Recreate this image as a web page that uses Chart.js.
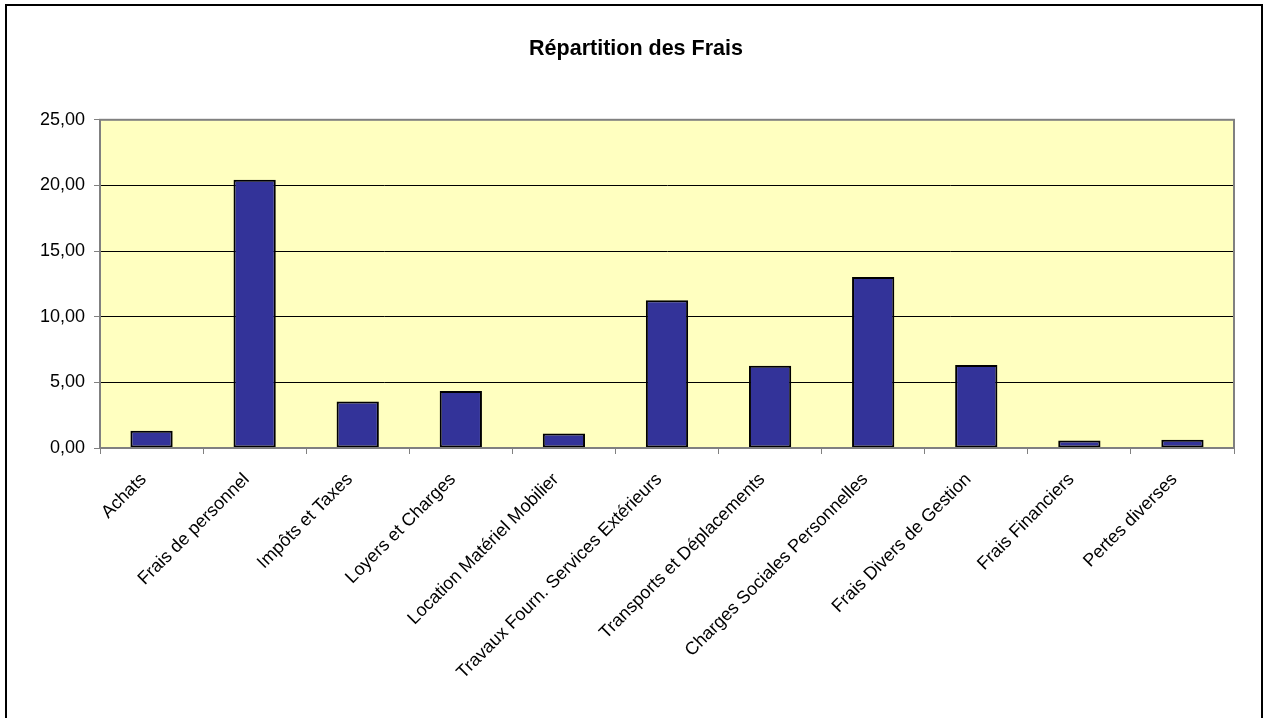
<!DOCTYPE html>
<html>
<head>
<meta charset="utf-8">
<script src="https://cdn.jsdelivr.net/npm/chart.js@4"></script>
<style>
    body { margin: 0; overflow: hidden; background: #fff; }
    #wrap { position: relative; width: 1265px; height: 718px; }
    #frame { position: absolute; left: 5px; top: 4px; width: 1254px; height: 800px; border: 2px solid #000; pointer-events: none; }
</style>
</head>
<body>
<div id="wrap">
    <canvas id="fraisChart" width="1265" height="718"></canvas>
    <div id="frame"></div>
</div>
<script>
const categories = [
    'Achats', 'Frais de personnel', 'Impôts et Taxes', 'Loyers et Charges',
    'Location Matériel Mobilier', 'Travaux Fourn. Services Extérieurs',
    'Transports et Déplacements', 'Charges Sociales Personnelles',
    'Frais Divers de Gestion', 'Frais Financiers', 'Pertes diverses'
];
const frais = [1.31, 20.43, 3.54, 4.35, 1.11, 11.25, 6.27, 13.02, 6.32, 0.58, 0.63];
const yMin = 0;
const yMax = 25;
const yStep = 5;

const FONT = 'Liberation Sans, Arial, sans-serif';

// fond jaune + cadre gris de la zone de tracé
const plotArea = {
    id: 'plotArea',
    beforeDraw(chart) {
        const { ctx, chartArea: a } = chart;
        ctx.save();
        ctx.fillStyle = '#FFFFC0';
        ctx.fillRect(a.left, a.top, a.right - a.left, a.bottom - a.top);
        ctx.restore();
    },
    afterDraw(chart) {
        const { ctx, chartArea: a } = chart;
        ctx.save();
        ctx.strokeStyle = '#808080';
        ctx.lineWidth = 2;
        ctx.strokeRect(a.left, a.top, a.right - a.left, a.bottom - a.top);
        ctx.restore();
    }
};

new Chart(document.getElementById('fraisChart').getContext('2d'), {
    type: 'bar',
    data: {
        labels: categories,
        datasets: [{
            data: frais,
            backgroundColor: '#333399',
            borderColor: '#000000',
            borderWidth: 2,
            borderSkipped: false,
            categoryPercentage: 1,
            barPercentage: 0.41
        }]
    },
    plugins: [plotArea],
    options: {
        responsive: false,
        animation: false,
        devicePixelRatio: 1,
        // gauche 38 / droite 31 : titre centré vers x=636 comme l'original
        layout: { padding: { left: 38, right: 31, top: 0, bottom: 0 } },
        plugins: {
            legend: { display: false },
            tooltip: { enabled: false },
            title: {
                display: true,
                text: 'Répartition des Frais',
                color: '#000',
                font: { family: FONT, size: 21.5, weight: 'bold' },
                padding: { top: 36, bottom: 58 }
            }
        },
        scales: {
            x: {
                afterFit: (scale) => { scale.height = 270; },
                grid: { drawOnChartArea: false, color: '#808080', tickLength: 6, offset: true },
                border: { color: '#808080', width: 2 },
                ticks: {
                    autoSkip: false,
                    maxRotation: 45,
                    minRotation: 45,
                    color: '#000',
                    padding: 15,
                    labelOffset: -8,
                    font: { family: FONT, size: 18 }
                }
            },
            y: {
                min: yMin,
                max: yMax,
                afterFit: (scale) => { scale.width = 62; },
                grid: { color: '#000', lineWidth: 1, tickColor: '#808080', tickLength: 6 },
                border: { color: '#808080', width: 2 },
                ticks: {
                    stepSize: yStep,
                    color: '#000',
                    padding: 9,
                    font: { family: FONT, size: 18 },
                    callback: (v) => v.toFixed(2).replace('.', ',')
                }
            }
        }
    }
});
</script>
</body>
</html>
